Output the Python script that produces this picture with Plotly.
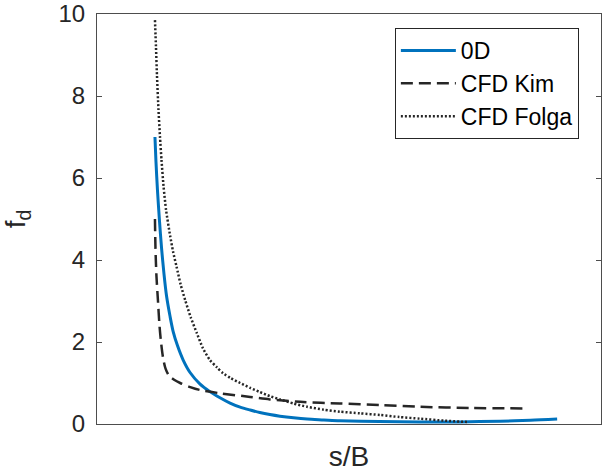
import plotly.graph_objects as go

# s/B (arbitrary units, axis unlabeled) and f_d values
x_0d = [1.15, 1.17, 1.20, 1.24, 1.28, 1.33, 1.38, 1.45, 1.51, 1.6, 1.71, 1.85, 2.04, 2.24, 2.44, 2.64, 2.84, 3.04,
        3.23, 3.43, 3.63, 3.9, 4.17, 4.5, 4.82, 5.6, 6.41, 7.2, 8.0, 8.6, 9.13]
y_0d = [7.0, 6.4, 5.7, 4.95, 4.3, 3.65, 3.12, 2.62, 2.26, 1.9, 1.56, 1.25, 0.98, 0.79, 0.64, 0.51, 0.41, 0.34,
        0.28, 0.23, 0.19, 0.15, 0.12, 0.1, 0.08, 0.06, 0.05, 0.05, 0.07, 0.09, 0.12]

x_kim = [1.15, 1.16, 1.18, 1.21, 1.24, 1.27, 1.31, 1.36, 1.43, 1.53, 1.65, 1.85, 2.04, 2.44, 3.04, 3.43, 4.03, 4.82, 5.62, 6.41, 7.4, 8.49]
y_kim = [5.0, 4.3, 3.6, 3.0, 2.4, 2.0, 1.62, 1.35, 1.18, 1.08, 1.0, 0.9, 0.83, 0.75, 0.66, 0.6, 0.54, 0.5, 0.46, 0.42, 0.39, 0.38]

x_folga = [1.15, 1.17, 1.19, 1.22, 1.25, 1.28, 1.32, 1.37, 1.45, 1.51, 1.58, 1.66, 1.75, 1.86, 1.98, 2.1, 2.24, 2.38, 2.50, 2.65,
           2.84, 3.04, 3.23, 3.43, 3.63, 3.9, 4.17, 4.5, 4.82, 5.22, 5.62, 6.0, 6.41, 6.9, 7.34]
y_folga = [9.85, 9.2, 8.5, 7.66, 7.0, 6.44, 5.8, 5.22, 4.6, 4.2, 3.83, 3.4, 3.02, 2.6, 2.22, 1.85, 1.56, 1.38, 1.24, 1.12,
           1.0, 0.88, 0.78, 0.68, 0.6, 0.5, 0.42, 0.35, 0.3, 0.26, 0.22, 0.17, 0.13, 0.08, 0.05]

y_ticks = [0, 2, 4, 6, 8, 10]

fig = go.Figure()
fig.add_trace(go.Scatter(x=x_0d, y=y_0d, mode="lines", name="0D",
                         line=dict(color="#0072BD", width=3, shape="spline", smoothing=0.8)))
fig.add_trace(go.Scatter(x=x_kim, y=y_kim, mode="lines", name="CFD Kim",
                         line=dict(color="#262626", width=2.5, dash="12px,6px", shape="spline", smoothing=0.8)))
fig.add_trace(go.Scatter(x=x_folga, y=y_folga, mode="lines", name="CFD Folga",
                         line=dict(color="#262626", width=2.5, dash="2px,2px", shape="spline", smoothing=0.6)))

axis_color = "#4d4d4d"
fig.update_layout(
    width=602, height=474,
    margin=dict(l=97, r=1, t=14, b=50),
    paper_bgcolor="white", plot_bgcolor="white",
    font=dict(family="Liberation Sans, Arial, sans-serif", color="#262626"),
    showlegend=True,
    legend=dict(x=0.591, y=0.966, xanchor="left", yanchor="top",
                bordercolor="#262626", borderwidth=1, bgcolor="white",
                font=dict(size=23, color="#000000"), itemwidth=55,
                tracegroupgap=0),
    xaxis=dict(range=[0, 10], showticklabels=False, ticks="", showgrid=False, zeroline=False,
               showline=True, linecolor=axis_color, linewidth=1, mirror=True,
               title=dict(text="s/B", font=dict(size=28, color="#262626"), standoff=22)),
    yaxis=dict(range=[0, 10], tickvals=y_ticks, ticks="inside", ticklen=5, tickcolor=axis_color,
               showgrid=False, zeroline=False, showline=True, linecolor=axis_color, linewidth=1,
               mirror="ticks", tickfont=dict(size=24, color="#262626"), ticklabelstandoff=6,
               title=dict(text="f<sub>d</sub>", font=dict(size=28, color="#262626"), standoff=30)),
)

fig.write_html("out.html")
